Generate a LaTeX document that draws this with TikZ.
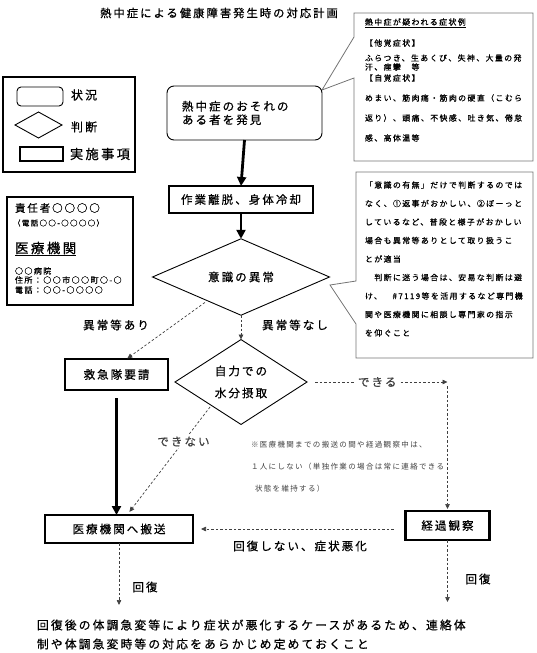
\documentclass[tikz,border=0pt]{standalone}
\usepackage{fontspec}
\setmainfont{Noto Sans CJK JP}[LetterSpace=18, FakeBold=0.7]
\newfontfamily\notefont{Noto Sans CJK JP}[LetterSpace=18]
\usetikzlibrary{shapes.geometric,arrows.meta,calc}
\newcommand\myfs[2]{\fontsize{#1}{#2}\selectfont}
\begin{document}
\begin{tikzpicture}[x=1pt,y=-1pt,
  every node/.style={inner sep=0pt, outer sep=0pt},
  thickbox/.style={draw, line width=2.4pt, font=\myfs{11.5}{13.5}},
  roundbox/.style={draw, line width=0.9pt, rounded corners=7pt},
  decide/.style={draw, diamond, line width=0.9pt, font=\myfs{11.5}{22}, align=center},
  lbl/.style={font=\myfs{11.5}{13.5}},
  csmall/.style={font=\myfs{7.9}{9}, anchor=west},
  note/.style={font=\notefont\myfs{7.5}{9}, anchor=west, text=black!75},
  thickarr/.style={line width=2.8pt, -{Triangle[length=9pt,width=9pt]}},
  dasharr/.style={line width=0.7pt, black!75, dash pattern=on 2.5pt off 2pt, -{Triangle[length=5pt,width=4.5pt]}},
  callout/.style={draw=black!55, line width=0.8pt},
]
\useasboundingbox (0,0) rectangle (536,653);

% title
\node[font=\myfs{11.3}{13}] (title) at (219,13) {熱中症による健康障害発生時の対応計画};

% legend
\node[draw, line width=1.3pt, minimum width=132pt, minimum height=95pt] (legend) at (69,124.5) {};
\node[roundbox, rounded corners=4pt, minimum width=46pt, minimum height=19pt] (lgsit) at (40,96.5) {};
\node[lbl, anchor=west, font=\myfs{12}{14}] (lgsitt) at (71,95) {状況};
\node[draw, diamond, line width=0.9pt, minimum width=47pt, minimum height=26pt] (lgdec) at (38.5,125) {};
\node[lbl, anchor=west, font=\myfs{12}{14}] (lgdect) at (71,127) {判断};
\node[draw, line width=2.4pt, minimum width=43pt, minimum height=14pt] (lgact) at (41.5,154) {};
\node[lbl, anchor=west, font=\myfs{13.2}{15}] (lgactt) at (70,154) {実施事項};

% contact box
\node[draw, line width=2.4pt, minimum width=126pt, minimum height=108pt] (contact) at (70,251) {};
\node[anchor=west, font=\myfs{10.5}{12}] (ct1) at (15,208) {責任者○○○○};
\node[anchor=west, font=\myfs{7.5}{9}] (ct2) at (13,223) {（電話○○-○○○○）};
\node[anchor=west, font=\myfs{13.5}{15}] (ct3) at (15,249) {\underline{医療機関}};
\node[anchor=west, font=\myfs{8}{9}] (ct4) at (15,271) {○○病院};
\node[anchor=west, font=\myfs{8}{9}] (ct5) at (15,280) {住所：○○市○○町○-○};
\node[anchor=west, font=\myfs{8}{9}] (ct6) at (15,290) {電話：○○-○○○○};

% callout 1
\draw[callout] (354,37) -- (354,13) -- (533,13) -- (533,161) -- (354,161) -- (354,78) -- (322,90) -- cycle;
\node[csmall] (ca1) at (365,23) {\underline{熱中症が疑われる症状例}};
\node[csmall] (ca2) at (365,43) {【他覚症状】};
\node[csmall] (ca3) at (365,58) {ふらつき、生あくび、失神、大量の発};
\node[csmall] (ca4) at (365,67) {汗、痙攣　等};
\node[csmall] (ca5) at (365,78) {【自覚症状】};
\node[csmall] (ca6) at (365,98) {めまい、筋肉痛・筋肉の硬直（こむら};
\node[csmall] (ca7) at (365,118) {返り）、頭痛、不快感、吐き気、倦怠};
\node[csmall] (ca8) at (365,138) {感、高体温等};

% callout 2
\draw[callout] (356,281) -- (356,172) -- (533,172) -- (533,358) -- (356,358) -- (356,324) -- (330,285) -- cycle;
\node[csmall] (cb1) at (365,185) {「意識の有無」だけで判断するのでは};
\node[csmall] (cb2) at (365,203.5) {なく、①返事がおかしい、②ぼーっと};
\node[csmall] (cb3) at (365,222) {しているなど、普段と様子がおかしい};
\node[csmall] (cb4) at (365,240.5) {場合も異常等ありとして取り扱うこ};
\node[csmall] (cb5) at (365,259) {とが適当};
\node[csmall] (cb6) at (365,277.5) {　判断に迷う場合は、安易な判断は避};
\node[csmall] (cb7) at (365,296) {け、　\#7119等を活用するなど専門機};
\node[csmall] (cb8) at (365,314.5) {関や医療機関に相談し専門家の指示};
\node[csmall] (cb9) at (365,333) {を仰ぐこと};

% flow nodes
\node[roundbox, minimum width=155pt, minimum height=54pt, text width=125pt, align=left, font=\myfs{11.5}{13.5}] (start) at (244.5,113) {熱中症のおそれの\\ある者を発見};
\node[thickbox, minimum width=144pt, minimum height=27pt] (work) at (241,199.5) {作業離脱、身体冷却};
\node[decide, minimum width=177pt, minimum height=68pt] (d1) at (241,277) {意識の異常};
\node[decide, minimum width=132pt, minimum height=80pt] (d2) at (241,382) {自力での\\水分摂取};
\node[thickbox, minimum width=103pt, minimum height=31pt] (kyu) at (116.5,374.5) {救急隊要請};
\node[thickbox, minimum width=148pt, minimum height=28pt] (iryo) at (119,529) {医療機関へ搬送};
\node[thickbox, minimum width=84pt, minimum height=29pt] (kei) at (447.5,525.5) {経過観察};

\coordinate (c1) at (kei.north |- d2.east);
\coordinate (endL) at ($(iryo.south)+(0,62)$);
\coordinate (endR) at ($(kei.south)+(0,62)$);

% connectors
\draw[thickarr] (start.south) -- (work.north);
\draw[thickarr] (work.south) -- (d1.north);
\draw[thickarr, shorten <=8pt] (kyu.south) -- (kyu.south |- iryo.north);
\draw[dasharr, shorten <=3pt, shorten >=1pt] ($(d1.south)!0.38!(d1.west)$) -- ([xshift=10pt]kyu.north);
\draw[dasharr] (d1.south) -- (d2.north);
\draw[dasharr, shorten <=2pt, shorten >=4pt] ($(d2.south)!0.45!(d2.west)$) -- node[pos=0.33, fill=white, inner sep=2pt, lbl] (lcant) {できない} ([xshift=8pt]iryo.north);
\draw[dasharr, shorten <=8pt] (d2.east) -- node[fill=white, inner sep=3pt, lbl] (lcan) {できる} (c1);
\draw[dasharr, shorten <=4pt, shorten >=2pt] (c1) -- (kei.north);
\draw[dasharr, shorten <=12pt, shorten >=8pt] (kei.west |- iryo.east) -- (iryo.east);
\draw[dasharr] (iryo.south) -- (endL);
\draw[dasharr] (kei.south) -- (endR);

% labels
\node[lbl] (l1) at (116,325) {異常等あり};
\node[lbl] (l2) at (295,325) {異常等なし};
\node[lbl] (l3) at (300,546) {回復しない、症状悪化};
\node[lbl] (l4) at (145,587) {回復};
\node[lbl] (l5) at (478,579) {回復};

% note
\node[note] (n1) at (251,445) {※医療機関までの搬送の間や経過観察中は、};
\node[note] (n2) at (251,467) {１人にしない（単独作業の場合は常に連絡できる};
\node[note] (n3) at (255,489) {状態を維持する）};

% bottom text
\node[anchor=west, font=\myfs{11.8}{19}, align=left] (bottom) at (37,634.5) {回復後の体調急変等により症状が悪化するケースがあるため、連絡体\\制や体調急変時等の対応をあらかじめ定めておくこと};
\end{tikzpicture}
\end{document}
